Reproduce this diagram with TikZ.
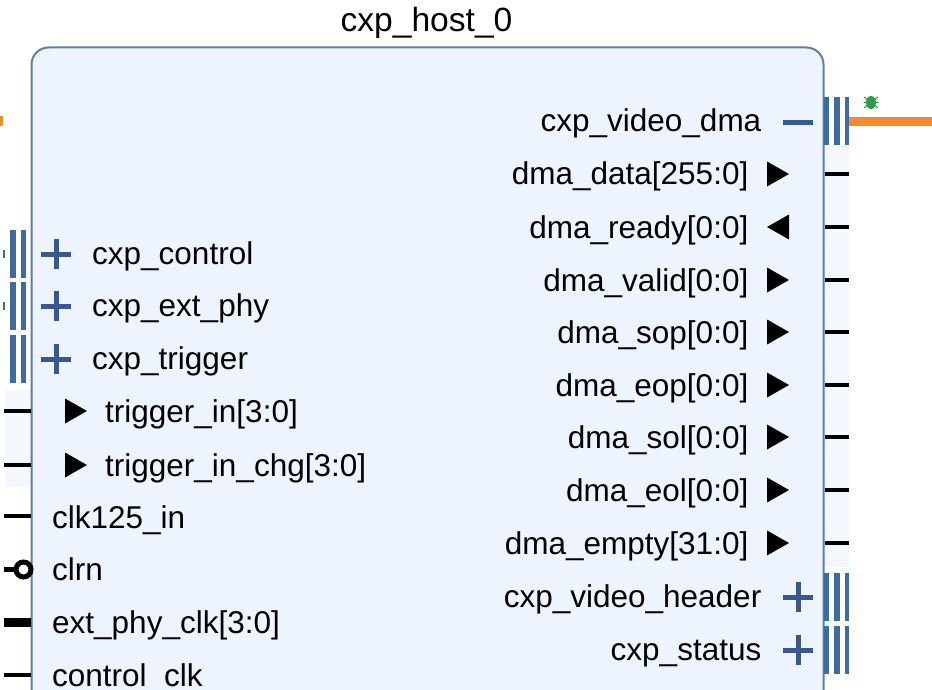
\documentclass[tikz,border=0pt]{standalone}
\usepackage{fontspec}
\setmainfont{Liberation Sans}
\definecolor{blockfill}{HTML}{EDF4FE}
\definecolor{blockline}{HTML}{5B7DB1}
\definecolor{portblue}{HTML}{3F6C9E}
\definecolor{plusblue}{HTML}{39588F}
\definecolor{netorange}{HTML}{F68B2C}
\definecolor{buggreen}{HTML}{2E9A4A}
\tikzset{
  lbl/.style={inner sep=0pt,font=\fontsize{31.5}{32}\selectfont,text height=23pt,text depth=7pt},
  lbll/.style={lbl,anchor=west},
  lblr/.style={lbl,anchor=east},
  wire/.style={line width=4.2pt,black},
  bar/.style={fill=portblue,draw=none},
  plusline/.style={line width=5pt,plusblue},
}
% three bars of a bus port, left edge at x, centred on y
\newcommand{\busport}[2]{
  \fill[bar] (#1,#2-24) rectangle ++(4.5,48);
  \fill[bar] (#1+10,#2-24) rectangle ++(5.5,48);
  \fill[bar] (#1+20.5,#2-24) rectangle ++(4.5,48);
}
\newcommand{\plusmark}[2]{
  \draw[plusline] (#1-15,#2) -- (#1+15,#2);
  \draw[plusline] (#1,#2-15) -- (#1,#2+15);
}
\begin{document}
\begin{tikzpicture}[x=1pt,y=-1pt]
\useasboundingbox (0,0) rectangle (932,690);
\fill[blockfill!60] (5,390) rectangle (31,487);
\fill[blockfill!60] (824,145) rectangle (849,567);
\draw[fill=blockfill,draw=blockline,line width=2pt,rounded corners=17pt] (31.5,710) -- (31.5,47.5) -- (823.5,47.5) -- (823.5,710);
\node[font=\fontsize{33.6}{34}\selectfont,inner sep=0pt] (title) at (426.5,23) {cxp\_host\_0};

% right side
\busport{824}{121}
\draw[line width=9pt,netorange] (849,121.5) -- (932,121.5);
\fill[netorange] (0,116) rectangle (3,126);
% debug bug
\fill[buggreen] (871,102.5) ellipse (5 and 6.5);
\draw[buggreen,line width=1pt] (864,97) -- (878,108) (878,97) -- (864,108) (863.5,102.5) -- (878.5,102.5);
\node[lblr] (videodma) at (761.5,124) {cxp\_video\_dma};
\draw[plusline] (783,122.5) -- (813,122.5);
\foreach \name/\txt/\y in {data/dma\_data[255:0]/174,valid/dma\_valid[0:0]/280,sop/dma\_sop[0:0]/332,eop/dma\_eop[0:0]/385,sol/dma\_sol[0:0]/437,eol/dma\_eol[0:0]/490,empty/dma\_empty[31:0]/543}{
  \node[lblr] (\name) at (748.5,\y+3) {\txt};
  \fill (767,\y-12.5) -- (789,\y) -- (767,\y+12.5) -- cycle;
  \draw[wire] (825,\y) -- (849,\y);
}
\node[lblr] (ready) at (748.5,230) {dma\_ready[0:0]};
\fill (789,214.5) -- (767,227) -- (789,239.5) -- cycle;
\draw[wire] (825,227) -- (849,227);
\foreach \name/\txt/\y in {header/cxp\_video\_header/597,status/cxp\_status/650}{
  \node[lblr] (\name) at (761.5,\y+2) {\txt};
  \plusmark{798}{\y}
  \busport{824}{\y}
}

% left side
\foreach \name/\txt/\y in {control/cxp\_control/254,extphy/cxp\_ext\_phy/306,trigger/cxp\_trigger/359}{
  \node[lbll] (\name) at (92,\y+2) {\txt};
  \plusmark{56}{\y}
  \fill[bar] (10,\y-24) rectangle ++(5.5,48);
  \fill[bar] (20.5,\y-24) rectangle ++(5,48);
}
\fill[bar] (3,250) rectangle (5,258);
\fill[bar] (3,302) rectangle (5,310);
\foreach \name/\txt/\y in {trigin/trigger\_in[3:0]/411,trigchg/trigger\_in\_chg[3:0]/465}{
  \node[lbll] (\name) at (105,\y+3) {\txt};
  \fill (65,\y-12.5) -- (87,\y) -- (65,\y+12.5) -- cycle;
  \draw[wire] (4,\y) -- (31,\y);
}
\node[lbll] (clkin) at (52,520) {clk125\_in};
\draw[wire] (4,516) -- (31,516);
\node[lbll] (clrn) at (52,572) {clrn};
\draw[wire] (4,569.5) -- (14,569.5);
\draw[line width=5pt] (23.5,569.5) circle (7.5);
\node[lbll] (phyclk) at (52,625) {ext\_phy\_clk[3:0]};
\draw[line width=9pt] (4,622.5) -- (31,622.5);
\node[lbll] (ctrlclk) at (52,678) {control\_clk};
\draw[wire] (4,675) -- (31,675);
\end{tikzpicture}
\end{document}
